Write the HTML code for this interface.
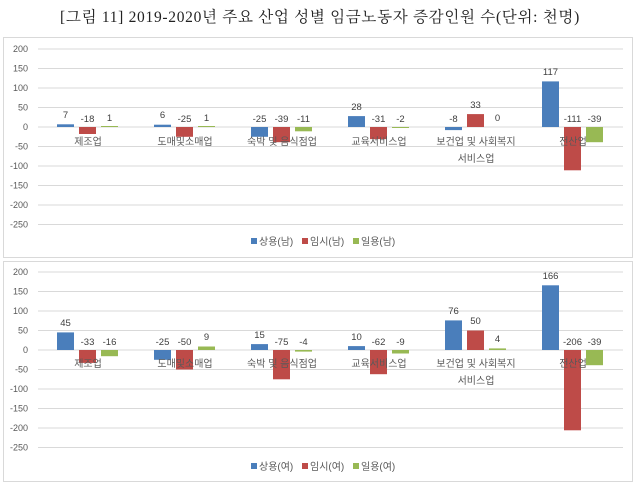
<!DOCTYPE html>
<html><head><meta charset="utf-8"><style>
body{margin:0;background:#fff;width:640px;height:490px;overflow:hidden}
svg{display:block}
.t{font-family:"Liberation Serif","Noto Serif CJK SC",serif;font-size:15.5px;fill:#222;letter-spacing:0.7px}
.y{font-family:"Liberation Sans",sans-serif;font-size:9px;fill:#595959;text-anchor:end}
.d{font-family:"Liberation Sans",sans-serif;font-size:9.5px;fill:#404040;text-anchor:middle}
.c{font-family:"Liberation Sans","Noto Sans CJK KR",sans-serif;font-size:10px;fill:#595959;text-anchor:middle}
.l{font-family:"Liberation Sans","Noto Sans CJK KR",sans-serif;font-size:10px;fill:#595959}
.g{stroke:#d9d9d9;stroke-width:1}
.b{fill:#4a7ebb}.r{fill:#be4b48}.n{fill:#98b954}
</style></head><body>
<svg width="640" height="490" viewBox="0 0 640 490">
<text class="t" x="320" y="22" text-anchor="middle">[그림 11] 2019-2020년 주요 산업 성별 임금노동자 증감인원 수(단위: 천명)</text>
<rect x="3.5" y="37.5" width="629" height="220" fill="#fff" stroke="#d9d9d9"/>
<rect x="3.5" y="261.5" width="629" height="220" fill="#fff" stroke="#d9d9d9"/>
<g class="g">
<line x1="38" x2="623" y1="49" y2="49"/><line x1="38" x2="623" y1="68.5" y2="68.5"/><line x1="38" x2="623" y1="88" y2="88"/><line x1="38" x2="623" y1="107.5" y2="107.5"/><line x1="38" x2="623" y1="127" y2="127"/><line x1="38" x2="623" y1="146.5" y2="146.5"/><line x1="38" x2="623" y1="166" y2="166"/><line x1="38" x2="623" y1="185.5" y2="185.5"/><line x1="38" x2="623" y1="205" y2="205"/><line x1="38" x2="623" y1="224.5" y2="224.5"/>
<line x1="38" x2="623" y1="272" y2="272"/><line x1="38" x2="623" y1="291.5" y2="291.5"/><line x1="38" x2="623" y1="311" y2="311"/><line x1="38" x2="623" y1="330.5" y2="330.5"/><line x1="38" x2="623" y1="350" y2="350"/><line x1="38" x2="623" y1="369.5" y2="369.5"/><line x1="38" x2="623" y1="389" y2="389"/><line x1="38" x2="623" y1="408.5" y2="408.5"/><line x1="38" x2="623" y1="428" y2="428"/><line x1="38" x2="623" y1="447.5" y2="447.5"/>
</g>
<g class="y">
<text x="28" y="52">200</text><text x="28" y="71.5">150</text><text x="28" y="91">100</text><text x="28" y="110.5">50</text><text x="28" y="130">0</text><text x="28" y="149.5">-50</text><text x="28" y="169">-100</text><text x="28" y="188.5">-150</text><text x="28" y="208">-200</text><text x="28" y="227.5">-250</text>
<text x="28" y="275">200</text><text x="28" y="294.5">150</text><text x="28" y="314">100</text><text x="28" y="333.5">50</text><text x="28" y="353">0</text><text x="28" y="372.5">-50</text><text x="28" y="392">-100</text><text x="28" y="411.5">-150</text><text x="28" y="431">-200</text><text x="28" y="450.5">-250</text>
</g>
<rect class="b" x="57" y="124.3" width="17" height="2.7"/><rect class="r" x="79" y="127" width="17" height="7"/><rect class="n" x="101" y="126" width="17" height="1"/>
<rect class="b" x="154" y="124.7" width="17" height="2.3"/><rect class="r" x="176" y="127" width="17" height="9.8"/><rect class="n" x="198" y="126" width="17" height="1"/>
<rect class="b" x="251" y="127" width="17" height="9.8"/><rect class="r" x="273" y="127" width="17" height="15.2"/><rect class="n" x="295" y="127" width="17" height="4.3"/>
<rect class="b" x="348" y="116.1" width="17" height="10.9"/><rect class="r" x="370" y="127" width="17" height="12.1"/><rect class="n" x="392" y="127" width="17" height="1"/>
<rect class="b" x="445" y="127" width="17" height="3.1"/><rect class="r" x="467" y="114.1" width="17" height="12.9"/>
<rect class="b" x="542" y="81.4" width="17" height="45.6"/><rect class="r" x="564" y="127" width="17" height="43.3"/><rect class="n" x="586" y="127" width="17" height="15.2"/>
<g class="d">
<text x="65.5" y="118">7</text><text x="87.5" y="122">-18</text><text x="109.5" y="121">1</text>
<text x="162.5" y="118">6</text><text x="184.5" y="122">-25</text><text x="206.5" y="121">1</text>
<text x="259.5" y="122">-25</text><text x="281.5" y="122">-39</text><text x="303.5" y="122">-11</text>
<text x="356.5" y="110">28</text><text x="378.5" y="122">-31</text><text x="400.5" y="122">-2</text>
<text x="453.5" y="122">-8</text><text x="475.5" y="108">33</text><text x="497.5" y="121">0</text>
<text x="550.5" y="75">117</text><text x="572.5" y="122">-111</text><text x="594.5" y="122">-39</text>
</g>
<g class="c">
<text x="88" y="145">제조업</text><text x="185" y="145">도매및소매업</text><text x="282" y="145">숙박 및 음식점업</text><text x="379" y="145">교육서비스업</text><text x="476" y="145">보건업 및 사회복지</text><text x="476" y="162">서비스업</text><text x="573" y="145">전산업</text>
</g>
<g class="l">
<rect class="b" x="251" y="238" width="6" height="6"/><text x="259" y="245">상용(남)</text>
<rect class="r" x="302" y="238" width="6" height="6"/><text x="310" y="245">임시(남)</text>
<rect class="n" x="353" y="238" width="6" height="6"/><text x="361" y="245">일용(남)</text>
</g>
<rect class="b" x="57" y="332.4" width="17" height="17.6"/><rect class="r" x="79" y="350" width="17" height="12.9"/><rect class="n" x="101" y="350" width="17" height="6.2"/>
<rect class="b" x="154" y="350" width="17" height="9.8"/><rect class="r" x="176" y="350" width="17" height="19.5"/><rect class="n" x="198" y="346.5" width="17" height="3.5"/>
<rect class="b" x="251" y="344.1" width="17" height="5.9"/><rect class="r" x="273" y="350" width="17" height="29.3"/><rect class="n" x="295" y="350" width="17" height="1.6"/>
<rect class="b" x="348" y="346.1" width="17" height="3.9"/><rect class="r" x="370" y="350" width="17" height="24.2"/><rect class="n" x="392" y="350" width="17" height="3.5"/>
<rect class="b" x="445" y="320.4" width="17" height="29.6"/><rect class="r" x="467" y="330.5" width="17" height="19.5"/><rect class="n" x="489" y="348.4" width="17" height="1.6"/>
<rect class="b" x="542" y="285.3" width="17" height="64.7"/><rect class="r" x="564" y="350" width="17" height="80.3"/><rect class="n" x="586" y="350" width="17" height="15.2"/>
<g class="d">
<text x="65.5" y="326">45</text><text x="87.5" y="345">-33</text><text x="109.5" y="345">-16</text>
<text x="162.5" y="345">-25</text><text x="184.5" y="345">-50</text><text x="206.5" y="340">9</text>
<text x="259.5" y="338">15</text><text x="281.5" y="345">-75</text><text x="303.5" y="345">-4</text>
<text x="356.5" y="340">10</text><text x="378.5" y="345">-62</text><text x="400.5" y="345">-9</text>
<text x="453.5" y="314">76</text><text x="475.5" y="324">50</text><text x="497.5" y="342">4</text>
<text x="550.5" y="279">166</text><text x="572.5" y="345">-206</text><text x="594.5" y="345">-39</text>
</g>
<g class="c">
<text x="88" y="367">제조업</text><text x="185" y="367">도매및소매업</text><text x="282" y="367">숙박 및 음식점업</text><text x="379" y="367">교육서비스업</text><text x="476" y="367">보건업 및 사회복지</text><text x="476" y="384">서비스업</text><text x="573" y="367">전산업</text>
</g>
<g class="l">
<rect class="b" x="251" y="463" width="6" height="6"/><text x="259" y="470">상용(여)</text>
<rect class="r" x="302" y="463" width="6" height="6"/><text x="310" y="470">임시(여)</text>
<rect class="n" x="353" y="463" width="6" height="6"/><text x="361" y="470">일용(여)</text>
</g>
</svg>
</body></html>
